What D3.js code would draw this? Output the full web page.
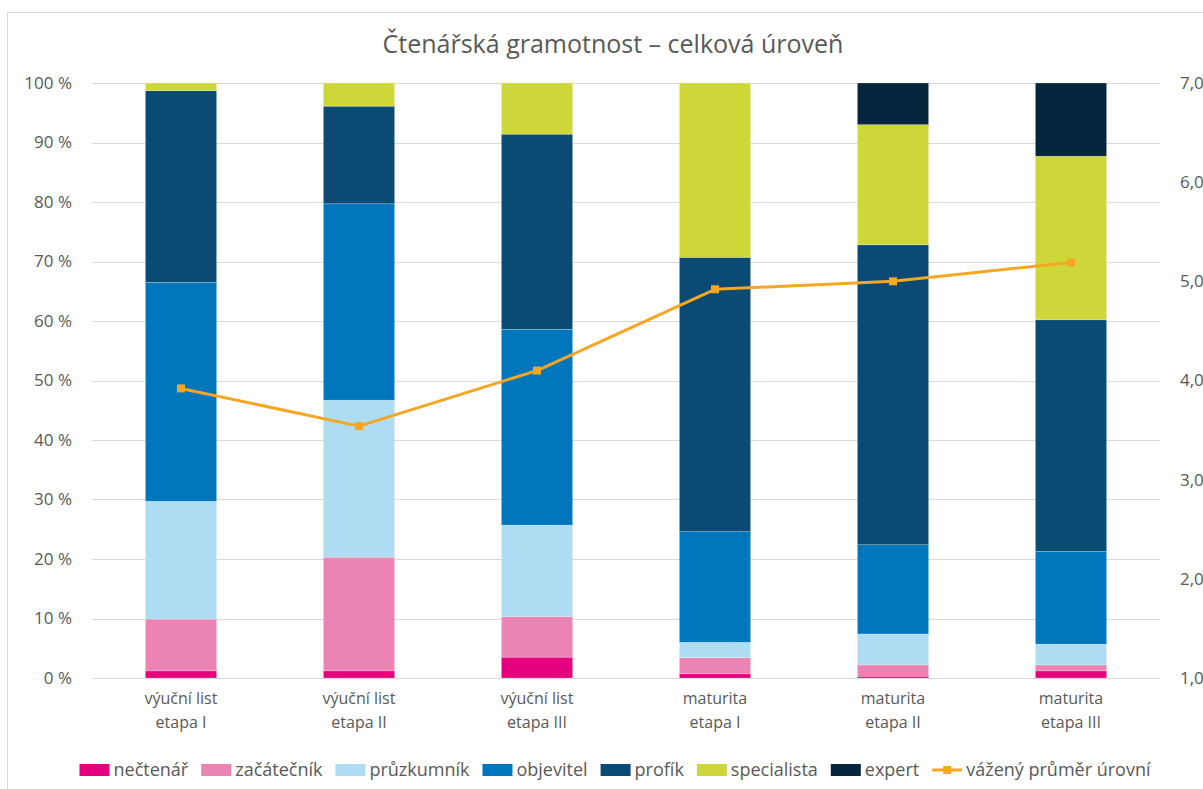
<!DOCTYPE html>
<html>
<head>
<meta charset="utf-8">
<script src="https://cdn.jsdelivr.net/npm/d3@7"></script>
<style>
  body { margin: 0; background: #fff; }
  svg { font-family: "Open Sans", "Noto Sans", sans-serif; }
</style>
</head>
<body>
<script>
// kategorie (dva řádky popisku)
const categories = ["vl1", "vl2", "vl3", "m1", "m2", "m3"];
const catLine1 = ["výuční list", "výuční list", "výuční list", "maturita", "maturita", "maturita"];
const catLine2 = ["etapa I", "etapa II", "etapa III", "etapa I", "etapa II", "etapa III"];

// podíly úrovní v %
const nectenar    = [1.2, 1.2, 3.5, 0.7, 0.3, 1.2];
const zacatecnik  = [8.7, 19.1, 6.8, 2.7, 1.9, 1.0];
const pruzkumnik  = [19.8, 26.4, 15.4, 2.6, 5.2, 3.5];
const objevitel   = [36.8, 33.0, 32.9, 18.6, 15.0, 15.6];
const profik      = [32.2, 16.4, 32.8, 46.1, 50.4, 38.9];
const specialista = [1.3, 3.9, 8.6, 29.3, 20.2, 27.5];
const expert      = [0, 0, 0, 0, 7.0, 12.3];

// vážený průměr úrovní (pravá osa)
const prumer = [3.92, 3.54, 4.10, 4.92, 5.00, 5.19];

const seriesNames = ["nečtenář", "začátečník", "průzkumník", "objevitel", "profík", "specialista", "expert"];
const seriesColors = ["#e5007e", "#eb84b3", "#aedcf2", "#0077bd", "#0a4a73", "#cdd73a", "#06263d"];
const lineName = "vážený průměr úrovní";
const lineColor = "#f5a623";

const leftTicks = [0, 10, 20, 30, 40, 50, 60, 70, 80, 90, 100];
const rightTicks = [1, 2, 3, 4, 5, 6, 7];

const W = 1203, H = 789;
const textColor = "#595959";

const svg = d3.select("body").append("svg")
  .attr("width", W).attr("height", H);

// rámeček grafu
svg.append("rect")
  .attr("x", 7.5).attr("y", 12.5)
  .attr("width", 1300).attr("height", 800)
  .attr("fill", "none").attr("stroke", "#d9d9d9");

// nadpis
svg.append("text")
  .attr("x", 613).attr("y", 53)
  .attr("text-anchor", "middle")
  .attr("font-size", 25)
  .attr("fill", textColor)
  .text("Čtenářská gramotnost – celková úroveň");

const plotLeft = 92, plotRight = 1160, plotTop = 83, plotBottom = 678;

const x = d3.scaleBand()
  .domain(categories)
  .range([plotLeft, plotRight])
  .paddingInner(0.6)
  .paddingOuter(0.3);

const y = d3.scaleLinear().domain([0, 100]).range([plotBottom, plotTop]);
const y2 = d3.scaleLinear().domain([1, 7]).range([plotBottom, plotTop]);

// mřížka
svg.append("g")
  .selectAll("line")
  .data(leftTicks)
  .enter()
  .append("line")
  .attr("x1", plotLeft).attr("x2", plotRight)
  .attr("y1", d => Math.round(y(d)) + 0.5)
  .attr("y2", d => Math.round(y(d)) + 0.5)
  .attr("stroke", "#d9d9d9")
  .attr("stroke-width", 1);

// levá osa
const leftAxis = svg.append("g")
  .attr("transform", `translate(${plotLeft - 20},0)`)
  .call(d3.axisLeft(y).tickValues(leftTicks).tickSize(0).tickPadding(0)
    .tickFormat(d => d + " %"));
leftAxis.select(".domain").remove();
leftAxis.selectAll("text")
  .attr("font-size", 17).attr("fill", textColor)
  .attr("font-family", "Open Sans");

// pravá osa
const rightAxis = svg.append("g")
  .attr("transform", `translate(${plotRight + 20},0)`)
  .call(d3.axisRight(y2).tickValues(rightTicks).tickSize(0).tickPadding(0)
    .tickFormat(d => d3.format(".1f")(d).replace(".", ",")));
rightAxis.select(".domain").remove();
rightAxis.selectAll("text")
  .attr("font-size", 17).attr("fill", textColor)
  .attr("font-family", "Open Sans");

// skládané sloupce
const seriesData = [nectenar, zacatecnik, pruzkumnik, objevitel, profik, specialista, expert];
const rows = categories.map((c, i) => {
  const r = { cat: c };
  seriesNames.forEach((s, k) => { r[s] = seriesData[k][i]; });
  return r;
});
const stacked = d3.stack().keys(seriesNames)(rows);

svg.append("g")
  .selectAll("g")
  .data(stacked)
  .enter()
  .append("g")
  .attr("fill", (d, k) => seriesColors[k])
  .selectAll("rect")
  .data(d => d)
  .enter()
  .append("rect")
  .attr("x", d => x(d.data.cat))
  .attr("width", x.bandwidth())
  .attr("y", d => y(d[1]))
  .attr("height", d => y(d[0]) - y(d[1]))
  .attr("stroke", "#ffffff")
  .attr("stroke-opacity", 0.35)
  .attr("stroke-width", 0.6);

// popisky kategorií
const catLabels = svg.append("g")
  .selectAll("text")
  .data(categories)
  .enter()
  .append("text")
  .attr("text-anchor", "middle")
  .attr("font-size", 16)
  .attr("fill", textColor);
catLabels.append("tspan")
  .attr("x", d => x(d) + x.bandwidth() / 2)
  .attr("y", 704)
  .text((d, i) => catLine1[i]);
catLabels.append("tspan")
  .attr("x", d => x(d) + x.bandwidth() / 2)
  .attr("y", 728)
  .text((d, i) => catLine2[i]);

// čára váženého průměru
const line = d3.line()
  .x((d, i) => x(categories[i]) + x.bandwidth() / 2)
  .y(d => y2(d));

svg.append("path")
  .datum(prumer)
  .attr("d", line)
  .attr("fill", "none")
  .attr("stroke", lineColor)
  .attr("stroke-width", 3)
  .attr("stroke-linejoin", "round");

svg.append("g")
  .selectAll("rect")
  .data(prumer)
  .enter()
  .append("rect")
  .attr("x", (d, i) => x(categories[i]) + x.bandwidth() / 2 - 4)
  .attr("y", d => y2(d) - 4)
  .attr("width", 8).attr("height", 8)
  .attr("fill", lineColor);

// legenda
const legendY = 770;
const legend = svg.append("g");
const items = seriesNames.map((s, k) => ({ name: s, color: seriesColors[k], type: "bar" }));
items.push({ name: lineName, color: lineColor, type: "line" });

let lx = 0;
items.forEach(it => {
  const g = legend.append("g").attr("transform", `translate(${lx},0)`);
  if (it.type === "bar") {
    g.append("rect")
      .attr("x", 0).attr("y", legendY - 6)
      .attr("width", 30).attr("height", 12)
      .attr("fill", it.color);
  } else {
    g.append("line")
      .attr("x1", 0).attr("x2", 30)
      .attr("y1", legendY).attr("y2", legendY)
      .attr("stroke", it.color).attr("stroke-width", 3);
    g.append("rect")
      .attr("x", 11).attr("y", legendY - 4)
      .attr("width", 8).attr("height", 8)
      .attr("fill", it.color);
  }
  const t = g.append("text")
    .attr("x", 34).attr("y", legendY + 6)
    .attr("font-size", 18)
    .attr("fill", textColor)
    .text(it.name);
  lx += 34 + t.node().getComputedTextLength() + 13;
});
const legendWidth = lx - 13;
legend.attr("transform", `translate(${615 - legendWidth / 2},0)`);
</script>
</body>
</html>
